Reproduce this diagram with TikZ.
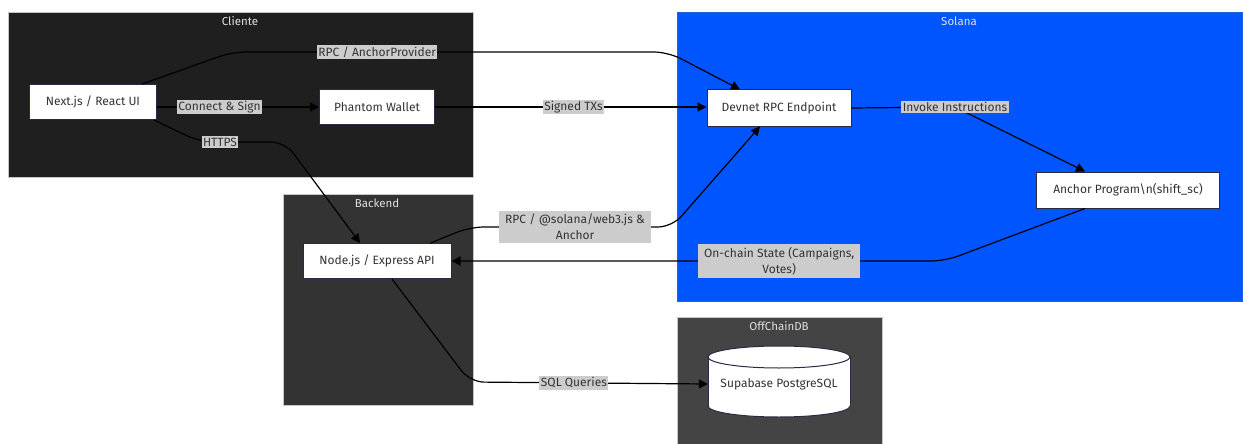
\documentclass[tikz,border=0pt]{standalone}
\usepackage{fontspec}
\setmainfont{Fira Sans}
\usetikzlibrary{arrows.meta,calc}
\definecolor{clibg}{HTML}{1F1F1F}
\definecolor{bebg}{HTML}{333333}
\definecolor{dbbg}{HTML}{444444}
\definecolor{solbg}{HTML}{0055FF}
\definecolor{lblbg}{HTML}{CCCCCC}
\definecolor{txt}{HTML}{333333}
\definecolor{nodeborder}{HTML}{2A2A45}
\tikzset{
  cluster/.style={draw=gray!45, line width=0.8pt},
  ctitle/.style={text=white!88!black, font=\fontsize{11.5}{13}\selectfont},
  box/.style={draw=nodeborder, fill=white, line width=1pt, text=txt, font=\fontsize{12}{14}\selectfont, inner sep=0pt},
  lbl/.style={fill=lblbg, draw=none, sharp corners, text=txt, font=\fontsize{12}{16}\selectfont, inner sep=1.5pt, align=center},
  lbltwo/.style={lbl, inner xsep=6pt, inner ysep=3pt},
  conn/.style={draw=black, line width=1.2pt, rounded corners=14pt, -{Triangle[length=9pt,width=9pt]}},
}
\begin{document}
\begin{tikzpicture}[x=1pt,y=-1pt]
\useasboundingbox (0,0) rectangle (1243,444);
\fill[white] (0,0) rectangle (1243,444);
% clusters
\draw[cluster, fill=clibg] (8,12) rectangle (473,177);
\node[ctitle] (tcli) at (240,21) {Cliente};
\draw[cluster, fill=solbg, draw=solbg!70!gray] (677,12) rectangle (1242,301);
\node[ctitle] (tsol) at (959,21) {Solana};
\draw[cluster, fill=bebg] (283,194) rectangle (473,405);
\node[ctitle] (tbe) at (377,203) {Backend};
\draw[cluster, fill=dbbg] (677,317) rectangle (882,446);
\node[ctitle] (tdb) at (779,326) {OffChainDB};
% nodes
\node[box, minimum width=127pt, minimum height=35pt] (nx) at (93,102) {Next.js / React UI};
\node[box, minimum width=115pt, minimum height=35pt] (ph) at (377,107) {Phantom Wallet};
\node[box, minimum width=144pt, minimum height=36pt] (dv) at (779,108) {Devnet RPC Endpoint};
\node[box, minimum width=183pt, minimum height=36pt] (an) at (1128,190) {Anchor Program\textbackslash n(shift\_sc)};
\node[box, minimum width=148pt, minimum height=35pt] (be) at (377,261) {Node.js / Express API};
% cylinder
\filldraw[draw=nodeborder, fill=white, line width=1pt] (779,406) ellipse [x radius=71pt, y radius=11pt];
\fill[white] (708,357) rectangle (850,406);
\draw[nodeborder, line width=1pt] (708,357) -- (708,406) (850,357) -- (850,406);
\filldraw[draw=nodeborder, fill=white, line width=1pt] (779,357) ellipse [x radius=71pt, y radius=11pt];
\node[text=txt, font=\fontsize{12}{14}\selectfont, minimum width=142pt, minimum height=60pt, inner sep=0pt] (db) at (779,384) {Supabase PostgreSQL};
% connectors
\draw[conn] ([xshift=-15pt]nx.north east) -- (232,52) -- node[lbl, pos=0.333] (l1) {RPC / AnchorProvider} (668,52) -- ([xshift=-39pt]dv.north);
\draw[conn] (nx.east |- ph.west) -- node[lbl, pos=0.386] (l2) {Connect \& Sign} (ph.west);
\draw[conn] ([xshift=-3pt]nx.south east) -- (200,142) -- node[lbl, pos=0.235] (l3) {HTTPS} (285,142) -- ([xshift=-17pt]be.north);
\draw[conn] (ph.east) -- node[lbl, pos=0.51] (l4) {Signed TXs} (ph.east -| dv.west);
\draw[conn] (dv.east) -- (955,107) node[lbl] (l5) {Invoke Instructions} -- ([xshift=-43pt]an.north);
\draw[conn] ([xshift=-21pt]be.north east) -- (470,227) -- node[lbltwo, pos=0.52] (l6) {RPC / @solana/web3.js \&\\Anchor} (672,227) -- ([xshift=-19pt]dv.south);
\draw[conn] ([xshift=-43pt]an.south) -- (945,261) -- node[lbltwo, pos=0.336] (l7) {On-chain State (Campaigns,\\Votes)} (be.east);
\draw[conn] ([xshift=15pt]be.south) -- (470,382) -- node[lbl, pos=0.437] (l8) {SQL Queries} (db.west);
\end{tikzpicture}
\end{document}
